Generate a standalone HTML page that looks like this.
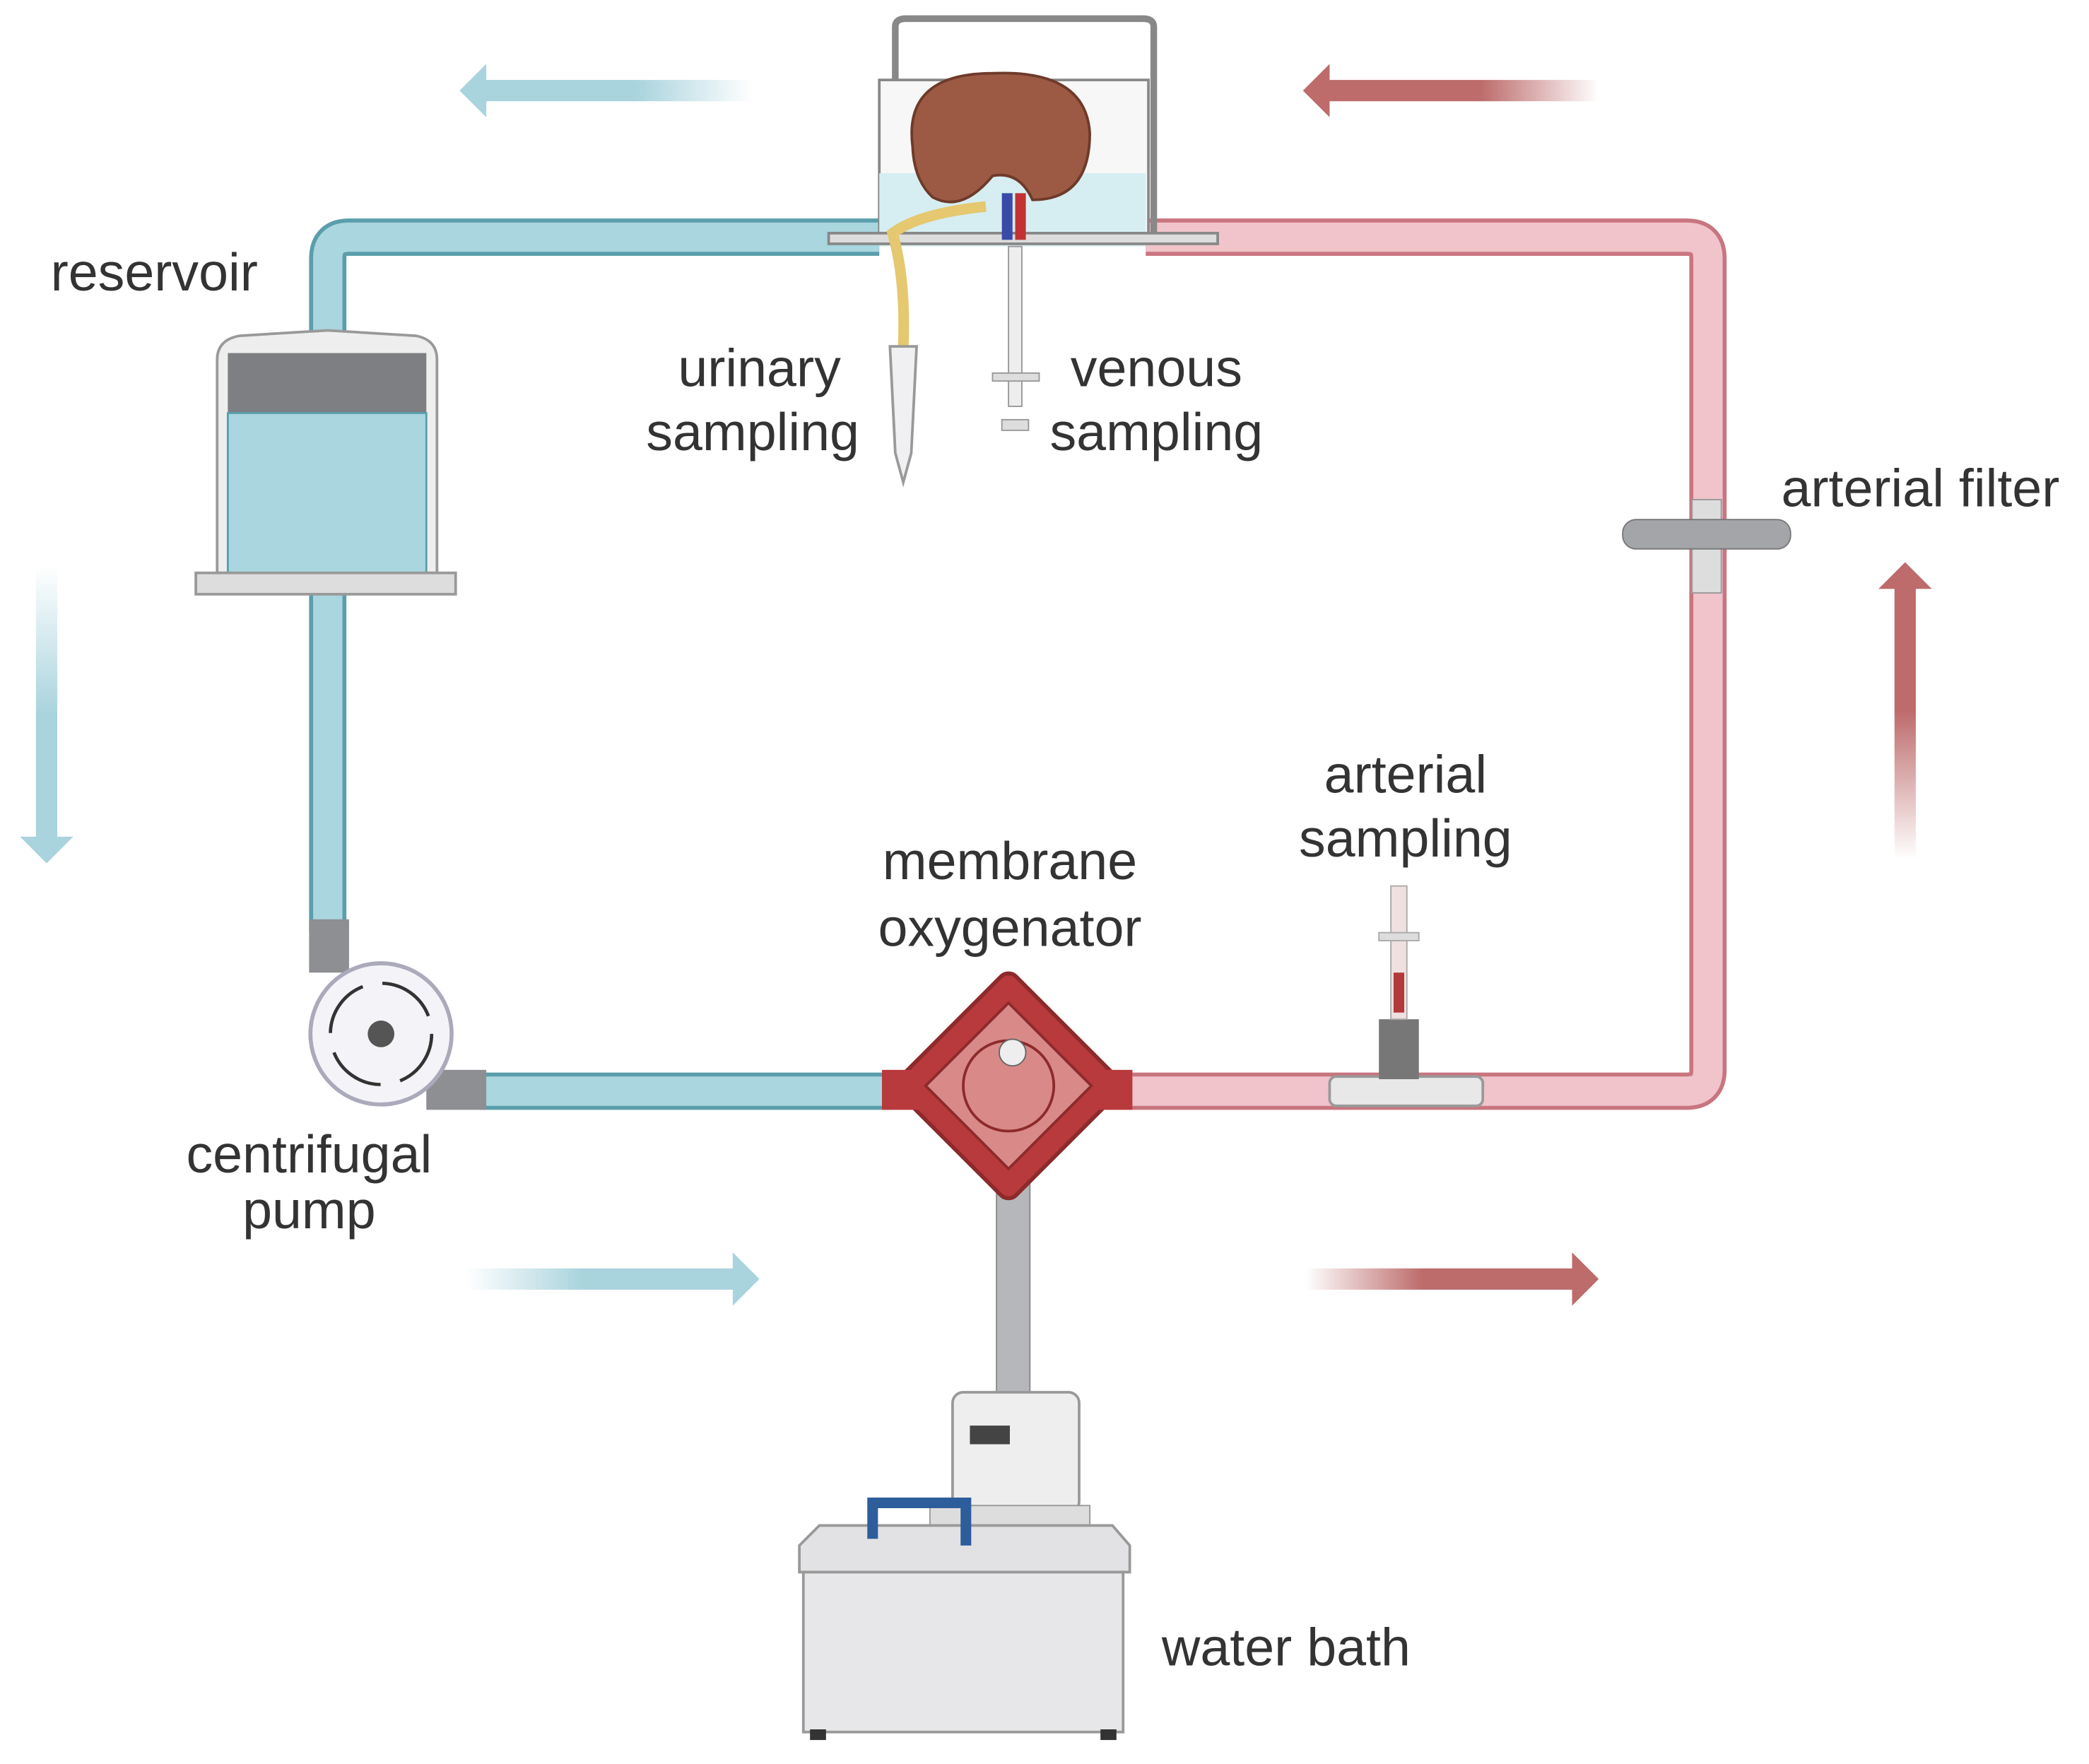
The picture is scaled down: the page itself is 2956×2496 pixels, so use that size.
<!DOCTYPE html>
<html><head><meta charset="utf-8"><style>
html,body{margin:0;padding:0;background:#fff;}
svg{display:block}
text{font-family:"Liberation Sans",sans-serif;font-size:40px;fill:#333}
</style></head><body>
<svg width="2956" height="2496" viewBox="0 0 1568 1324" preserveAspectRatio="none" xmlns="http://www.w3.org/2000/svg">
<defs>
<linearGradient id="bl" x1="0" x2="1"><stop offset="0" stop-color="#a9d3dd"/><stop offset="0.6" stop-color="#a9d3dd"/><stop offset="1" stop-color="#fff"/></linearGradient>
<linearGradient id="br" x1="0" x2="1"><stop offset="0" stop-color="#fff"/><stop offset="0.4" stop-color="#a9d3dd"/><stop offset="1" stop-color="#a9d3dd"/></linearGradient>
<linearGradient id="bd" x1="0" y1="0" x2="0" y2="1"><stop offset="0" stop-color="#fff"/><stop offset="0.5" stop-color="#a9d3dd"/><stop offset="1" stop-color="#a9d3dd"/></linearGradient>
<linearGradient id="rl" x1="0" x2="1"><stop offset="0" stop-color="#bd6b6b"/><stop offset="0.6" stop-color="#bd6b6b"/><stop offset="1" stop-color="#fff"/></linearGradient>
<linearGradient id="rr" x1="0" x2="1"><stop offset="0" stop-color="#fff"/><stop offset="0.4" stop-color="#bd6b6b"/><stop offset="1" stop-color="#bd6b6b"/></linearGradient>
<linearGradient id="ru" x1="0" y1="1" x2="0" y2="0"><stop offset="0" stop-color="#fff"/><stop offset="0.5" stop-color="#bd6b6b"/><stop offset="1" stop-color="#bd6b6b"/></linearGradient>
</defs>

<polygon points="345,68 365,48 365,60 565,60 565,76 365,76 365,88" fill="url(#bl)"/>
<polygon points="978,68 998,48 998,60 1200,60 1200,76 998,76 998,88" fill="url(#rl)"/>
<polygon points="350,952 550,952 550,940 570,960 550,980 550,968 350,968" fill="url(#br)"/>
<polygon points="980,952 1180,952 1180,940 1200,960 1180,980 1180,968 980,968" fill="url(#rr)"/>
<polygon points="27,425 43,425 43,628 55,628 35,648 15,628 27,628" fill="url(#bd)"/>
<polygon points="1422,645 1438,645 1438,442 1450,442 1430,422 1410,442 1422,442" fill="url(#ru)"/>

<path d="M660,178 H262 Q246,178 246,194 V700" fill="none" stroke="#5a9eab" stroke-width="28"/>
<path d="M660,178 H262 Q246,178 246,194 V700" fill="none" stroke="#a9d6df" stroke-width="22"/>
<path d="M360,819 H668" stroke="#5a9eab" stroke-width="28"/>
<path d="M360,819 H668" stroke="#a9d6df" stroke-width="22"/>
<path d="M850,819 H1266 Q1282,819 1282,803 V194 Q1282,178 1266,178 H860" fill="none" stroke="#c9757f" stroke-width="28"/>
<path d="M850,819 H1266 Q1282,819 1282,803 V194 Q1282,178 1266,178 H860" fill="none" stroke="#f0c4ca" stroke-width="22"/>

<path d="M163,430 V270 Q163,255 180,252 L246,248 L312,252 Q328,255 328,270 V430 Z" fill="#eee" stroke="#999" stroke-width="2"/>
<rect x="171" y="265" width="149" height="45" fill="#7d7f82"/>
<rect x="171" y="310" width="149" height="120" fill="#a9d6df" stroke="#5a9eab" stroke-width="1.5"/>
<rect x="147" y="430" width="195" height="16" fill="#ddd" stroke="#999" stroke-width="2"/>

<rect x="232" y="690" width="30" height="40" fill="#8d8f92"/>
<rect x="320" y="803" width="45" height="30" fill="#8d8f92"/>
<circle cx="286" cy="776" r="53" fill="#f4f4f8" stroke="#aab" stroke-width="3"/>
<circle cx="286" cy="776" r="38" fill="none" stroke="#333" stroke-width="2.5" stroke-dasharray="45 15"/>
<circle cx="286" cy="776" r="10" fill="#555"/>

<rect x="748" y="880" width="25" height="175" fill="#b5b7ba" stroke="#888"/>
<g transform="translate(757,815) rotate(45)">
<rect x="-62" y="-62" width="124" height="124" rx="8" fill="#b83a3c" stroke="#8c2a2c" stroke-width="3"/>
<rect x="-44" y="-44" width="88" height="88" fill="#d98a88" stroke="#8c2a2c" stroke-width="2"/>
<circle cx="0" cy="0" r="34" fill="none" stroke="#8c2a2c" stroke-width="2"/>
</g>
<rect x="662" y="803" width="30" height="30" fill="#b83a3c"/>
<rect x="822" y="803" width="28" height="30" fill="#b83a3c"/>
<circle cx="760" cy="790" r="10" fill="#eee" stroke="#666"/>

<rect x="998" y="808" width="115" height="22" rx="5" fill="#e8e8e8" stroke="#999" stroke-width="2"/>
<rect x="1035" y="765" width="30" height="45" fill="#777"/>
<rect x="1044" y="665" width="12" height="100" fill="#f1e0e0" stroke="#aaa"/>
<rect x="1046" y="730" width="8" height="30" fill="#b23a3a"/>
<rect x="1035" y="700" width="30" height="6" fill="#ddd" stroke="#aaa"/>

<rect x="1270" y="375" width="22" height="70" fill="#ddd" stroke="#999"/>
<rect x="1218" y="390" width="126" height="22" rx="10" fill="#a3a5a8" stroke="#777"/>

<path d="M672,160 V20 Q672,14 680,14 H858 Q866,14 866,20 V175" fill="none" stroke="#888" stroke-width="5"/>
<path d="M660,180 V60 L862,60 V180" fill="#f7f7f7" stroke="#888" stroke-width="2"/>
<rect x="660" y="130" width="200" height="55" fill="#d6eef2"/>
<rect x="622" y="175" width="292" height="8" fill="#ddd" stroke="#888" stroke-width="2"/>
<path d="M685,110 Q678,55 745,55 Q815,52 818,100 Q818,150 775,150 Q765,128 745,132 Q722,160 700,148 Q686,135 685,110 Z" fill="#9c5a45" stroke="#6e3a2a" stroke-width="2"/>
<rect x="752" y="145" width="8" height="35" fill="#3a4aa8"/>
<rect x="762" y="145" width="8" height="35" fill="#c23232"/>
<path d="M740,155 Q690,160 670,175 Q680,210 678,260" fill="none" stroke="#e5c870" stroke-width="8"/>
<path d="M668,260 H688 L684,340 L678,362 L672,340 Z" fill="#f0f0f2" stroke="#999" stroke-width="2"/>
<rect x="757" y="185" width="10" height="120" fill="#eee" stroke="#999"/>
<rect x="745" y="280" width="35" height="6" fill="#ddd" stroke="#999"/>
<rect x="752" y="315" width="20" height="8" fill="#ddd" stroke="#999"/>

<rect x="715" y="1045" width="95" height="90" rx="8" fill="#eee" stroke="#999" stroke-width="2"/>
<rect x="728" y="1070" width="30" height="14" fill="#444"/>
<rect x="698" y="1130" width="120" height="20" fill="#ddd" stroke="#999"/>
<path d="M600,1160 L615,1145 H835 L848,1160 V1180 H600 Z" fill="#e2e2e4" stroke="#999" stroke-width="2"/>
<rect x="603" y="1180" width="240" height="120" fill="#e7e7e9" stroke="#999" stroke-width="2"/>
<path d="M655,1155 V1128 H725 V1160" fill="none" stroke="#2e5d9c" stroke-width="8"/>
<rect x="608" y="1298" width="12" height="8" fill="#333"/>
<rect x="826" y="1298" width="12" height="8" fill="#333"/>

<text x="38" y="218">reservoir</text>
<text x="570" y="290" text-anchor="middle">urinary</text>
<text x="565" y="338" text-anchor="middle">sampling</text>
<text x="868" y="290" text-anchor="middle">venous</text>
<text x="868" y="338" text-anchor="middle">sampling</text>
<text x="1337" y="380">arterial filter</text>
<text x="1055" y="595" text-anchor="middle">arterial</text>
<text x="1055" y="643" text-anchor="middle">sampling</text>
<text x="758" y="660" text-anchor="middle">membrane</text>
<text x="758" y="710" text-anchor="middle">oxygenator</text>
<text x="232" y="880" text-anchor="middle">centrifugal</text>
<text x="232" y="922" text-anchor="middle">pump</text>
<text x="872" y="1250">water bath</text>
</svg>
</body></html>
